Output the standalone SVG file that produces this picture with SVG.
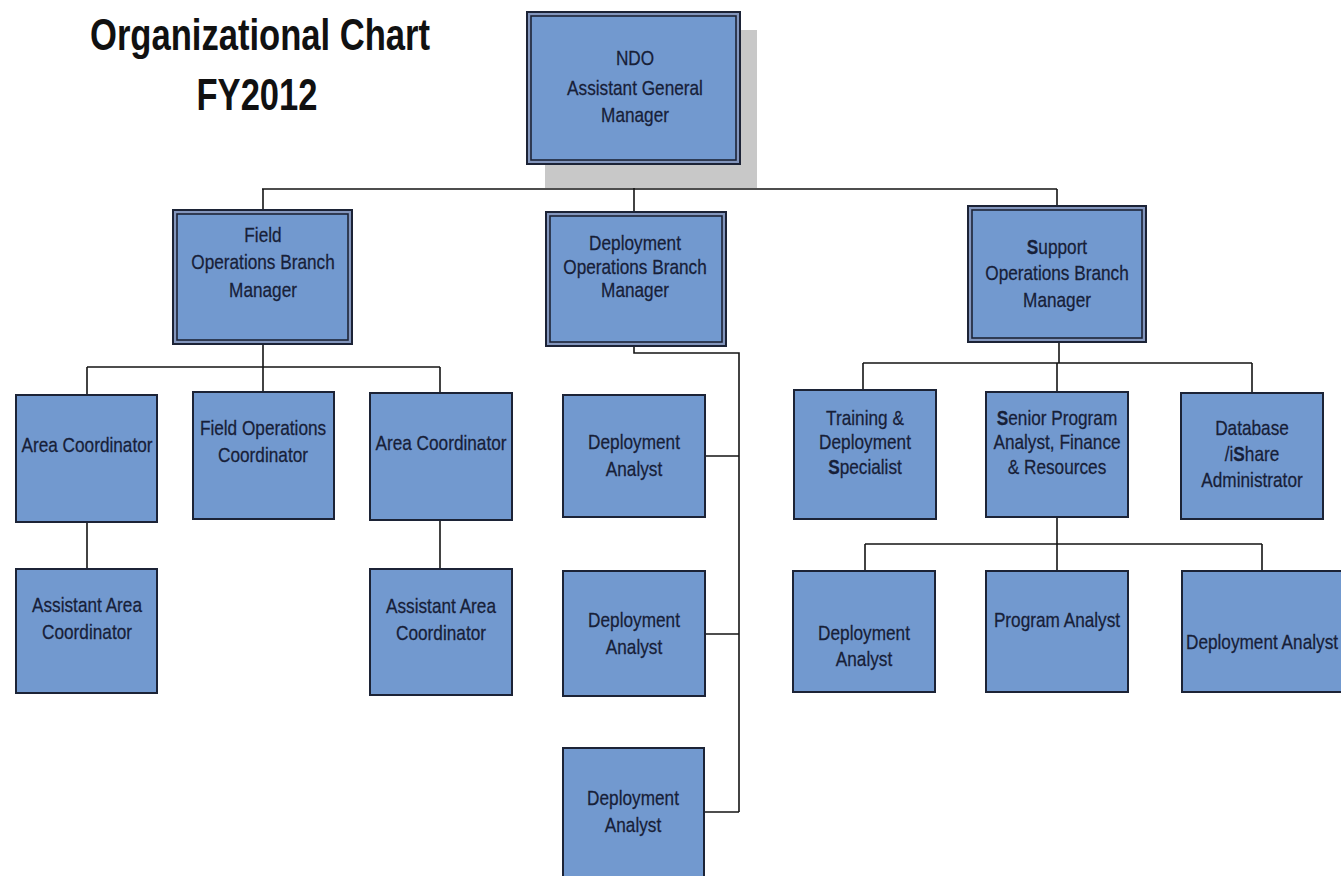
<svg xmlns="http://www.w3.org/2000/svg" width="1341" height="876" viewBox="0 0 1341 876">
<style>
.bg{fill:#ffffff}
.box{fill:#7299cf;stroke:#1c2336;stroke-width:2}
.outer{fill:#8396bd;stroke:#1c2336;stroke-width:2}
.inner{fill:#7299cf;stroke:#1c2336;stroke-width:1.6}
.shadow{fill:#c8c8c8}
.t{font-family:"Liberation Sans",Arial,sans-serif;font-size:21px;fill:#172038;text-anchor:middle;stroke:#172038;stroke-width:0.25}
.title{font-family:"Liberation Sans",Arial,sans-serif;font-weight:bold;font-size:44px;fill:#111;text-anchor:middle}
.b{font-weight:bold}
#connectors path{fill:none;stroke:#151515;stroke-width:1.6}
</style>
<rect class="bg" x="0" y="0" width="1341" height="876"/>
<g id="title">
<text class="title" x="260" y="50" textLength="340" lengthAdjust="spacingAndGlyphs">Organizational Chart</text>
<text class="title" x="257" y="110" textLength="121" lengthAdjust="spacingAndGlyphs">FY2012</text>
</g>
<g id="connectors">
<path d="M634 164V189M262 189H1057M263 189V210M634 189V212M1057 189V206"/>
<path d="M263 344V367M87 367H440M87 367V395M263 367V392M440 367V393M87 522V569M440 520V569"/>
<path d="M634 346V353H739V812M705 456H739M705 634H739M705 812H739"/>
<path d="M1059 342V363M863 363H1252M863 363V390M1057 363V392M1252 363V393"/>
<path d="M1057 517V544M865 544H1262M865 544V571M1057 544V571M1262 544V571"/>
</g>
<g id="ndo">
<rect class="shadow" x="545" y="30" width="212" height="158"/>
<rect class="outer" x="527" y="12" width="213" height="152"/>
<rect class="inner" x="531" y="16" width="205" height="144"/>
<text class="t" transform="translate(635 65) scale(0.82 1)">NDO</text>
<text class="t" transform="translate(635 95) scale(0.82 1)">Assistant General</text>
<text class="t" transform="translate(635 122) scale(0.82 1)">Manager</text>
</g>
<g id="field-ops">
<rect class="outer" x="173" y="210" width="179" height="134"/>
<rect class="inner" x="177" y="214" width="171" height="126"/>
<text class="t" transform="translate(263 242) scale(0.82 1)">Field</text>
<text class="t" transform="translate(263 269) scale(0.82 1)">Operations Branch</text>
<text class="t" transform="translate(263 297) scale(0.82 1)">Manager</text>
</g>
<g id="deploy-ops">
<rect class="outer" x="546" y="212" width="180" height="134"/>
<rect class="inner" x="550" y="216" width="172" height="126"/>
<text class="t" transform="translate(635 250) scale(0.82 1)">Deployment</text>
<text class="t" transform="translate(635 274) scale(0.82 1)">Operations Branch</text>
<text class="t" transform="translate(635 297) scale(0.82 1)">Manager</text>
</g>
<g id="support-ops">
<rect class="outer" x="968" y="206" width="178" height="136"/>
<rect class="inner" x="972" y="210" width="170" height="128"/>
<text class="t" transform="translate(1057 254) scale(0.82 1)"><tspan class="b">S</tspan>upport</text>
<text class="t" transform="translate(1057 280) scale(0.82 1)">Operations Branch</text>
<text class="t" transform="translate(1057 307) scale(0.82 1)">Manager</text>
</g>
<g id="area-coord-1">
<rect class="box" x="16" y="395" width="141" height="127"/>
<text class="t" transform="translate(87 452) scale(0.82 1)">Area Coordinator</text>
</g>
<g id="field-ops-coord">
<rect class="box" x="193" y="392" width="141" height="127"/>
<text class="t" transform="translate(263 435) scale(0.82 1)">Field Operations</text>
<text class="t" transform="translate(263 462) scale(0.82 1)">Coordinator</text>
</g>
<g id="area-coord-2">
<rect class="box" x="370" y="393" width="142" height="127"/>
<text class="t" transform="translate(441 450) scale(0.82 1)">Area Coordinator</text>
</g>
<g id="asst-area-coord-1">
<rect class="box" x="16" y="569" width="141" height="124"/>
<text class="t" transform="translate(87 612) scale(0.82 1)">Assistant Area</text>
<text class="t" transform="translate(87 639) scale(0.82 1)">Coordinator</text>
</g>
<g id="asst-area-coord-2">
<rect class="box" x="370" y="569" width="142" height="126"/>
<text class="t" transform="translate(441 613) scale(0.82 1)">Assistant Area</text>
<text class="t" transform="translate(441 640) scale(0.82 1)">Coordinator</text>
</g>
<g id="deploy-analyst-1">
<rect class="box" x="563" y="395" width="142" height="122"/>
<text class="t" transform="translate(634 449) scale(0.82 1)">Deployment</text>
<text class="t" transform="translate(634 476) scale(0.82 1)">Analyst</text>
</g>
<g id="deploy-analyst-2">
<rect class="box" x="563" y="571" width="142" height="125"/>
<text class="t" transform="translate(634 627) scale(0.82 1)">Deployment</text>
<text class="t" transform="translate(634 654) scale(0.82 1)">Analyst</text>
</g>
<g id="deploy-analyst-3">
<rect class="box" x="563" y="748" width="141" height="140"/>
<text class="t" transform="translate(633 805) scale(0.82 1)">Deployment</text>
<text class="t" transform="translate(633 832) scale(0.82 1)">Analyst</text>
</g>
<g id="training">
<rect class="box" x="794" y="390" width="142" height="129"/>
<text class="t" transform="translate(865 425) scale(0.82 1)">Training &amp;</text>
<text class="t" transform="translate(865 449) scale(0.82 1)">Deployment</text>
<text class="t" transform="translate(865 474) scale(0.82 1)"><tspan class="b">S</tspan>pecialist</text>
</g>
<g id="senior-analyst">
<rect class="box" x="986" y="392" width="142" height="125"/>
<text class="t" transform="translate(1057 425) scale(0.82 1)"><tspan class="b">S</tspan>enior Program</text>
<text class="t" transform="translate(1057 449) scale(0.82 1)">Analyst, Finance</text>
<text class="t" transform="translate(1057 474) scale(0.82 1)">&amp; Resources</text>
</g>
<g id="database">
<rect class="box" x="1181" y="393" width="142" height="126"/>
<text class="t" transform="translate(1252 435) scale(0.82 1)">Database</text>
<text class="t" transform="translate(1252 461) scale(0.82 1)">/i<tspan class="b">S</tspan>hare</text>
<text class="t" transform="translate(1252 487) scale(0.82 1)">Administrator</text>
</g>
<g id="deploy-analyst-4">
<rect class="box" x="793" y="571" width="142" height="121"/>
<text class="t" transform="translate(864 640) scale(0.82 1)">Deployment</text>
<text class="t" transform="translate(864 666) scale(0.82 1)">Analyst</text>
</g>
<g id="program-analyst">
<rect class="box" x="986" y="571" width="142" height="121"/>
<text class="t" transform="translate(1057 627) scale(0.82 1)">Program Analyst</text>
</g>
<g id="deploy-analyst-5">
<rect class="box" x="1182" y="571" width="170" height="121"/>
<text class="t" transform="translate(1262 649) scale(0.82 1)">Deployment Analyst</text>
</g>
</svg>
